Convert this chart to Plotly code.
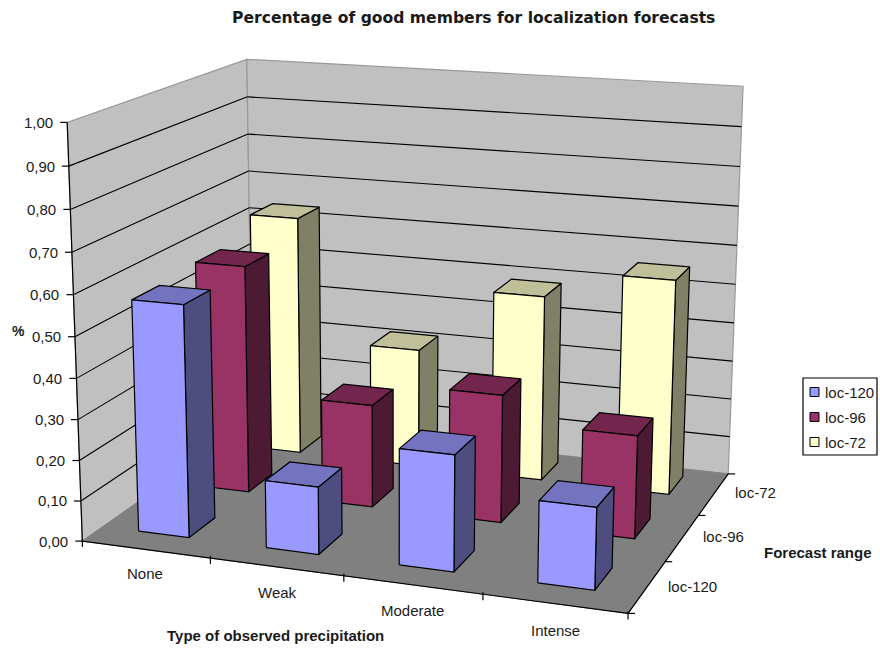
import numpy as np
import plotly.graph_objects as go

# Chart data
categories = ["None", "Weak", "Moderate", "Intense"]
series_names = ["loc-120", "loc-96", "loc-72"]
loc_120 = [0.57, 0.165, 0.28, 0.195]
loc_96 = [0.58, 0.26, 0.32, 0.255]
loc_72 = [0.63, 0.31, 0.48, 0.55]
value_ticks = [0.0, 0.1, 0.2, 0.3, 0.4, 0.5, 0.6, 0.7, 0.8, 0.9, 1.0]

FRONT = {"loc-120": "#9999FF", "loc-96": "#993366", "loc-72": "#FFFFCC"}
TOP = {"loc-120": "#7373BF", "loc-96": "#73264D", "loc-72": "#BFBF99"}
SIDE = {"loc-120": "#4D4D80", "loc-96": "#4D1A33", "loc-72": "#808066"}
TEXT = "#1a1a1a"
FONT = "Liberation Sans, Arial, sans-serif"
WIDE_FONT = "DejaVu Sans, Verdana, sans-serif"

# Camera for the box: category 0-4, range 0-3, value 0-1 -> page pixels.
anchors_3d = [(0, 0, 0), (0, 0, 1), (0, 3, 0), (0, 3, 1), (4, 3, 0), (4, 3, 1), (4, 0, 0),
              (1, 0, 0), (2, 0, 0), (3, 0, 0), (4, 1, 0), (4, 2, 0)]
anchors_px = [(83, 540), (67, 122), (252, 423), (247, 59), (729, 472), (743, 87), (628, 614),
              (211, 557), (343, 577), (483, 595), (665, 562), (698, 515)]


def solve_camera(world, screen):
    rows, rhs = [], []
    for (a, b, c), (u, v) in zip(world, screen):
        rows.append([a, b, c, 1, 0, 0, 0, 0, -u * a, -u * b, -u * c])
        rows.append([0, 0, 0, 0, a, b, c, 1, -v * a, -v * b, -v * c])
        rhs += [u, v]
    p = np.linalg.lstsq(np.array(rows, float), np.array(rhs, float), rcond=None)[0]
    return np.append(p, 1.0).reshape(3, 4)


CAM = solve_camera(anchors_3d, anchors_px)


def project(a, b, c):
    u, v, w = CAM @ np.array([a, b, c, 1.0])
    return u / w, v / w


fig = go.Figure()


def polygon(points, fill, line="#000000", width=1.2):
    xy = [project(*p) for p in points]
    xs = [q[0] for q in xy] + [xy[0][0]]
    ys = [q[1] for q in xy] + [xy[0][1]]
    fig.add_trace(go.Scatter(x=xs, y=ys, mode="lines", fill="toself", fillcolor=fill,
                             line=dict(color=line, width=width), hoverinfo="skip", showlegend=False))


def segment(p, q, color="#000000", width=1.2):
    a, b = project(*p), project(*q)
    fig.add_trace(go.Scatter(x=[a[0], b[0]], y=[a[1], b[1]], mode="lines",
                             line=dict(color=color, width=width), hoverinfo="skip", showlegend=False))


def tick(p, dx0, dy0, dx1, dy1):
    # Short screen-aligned tick mark around a projected axis point
    a = project(*p)
    fig.add_trace(go.Scatter(x=[a[0] + dx0, a[0] + dx1], y=[a[1] + dy0, a[1] + dy1], mode="lines",
                             line=dict(color="#000000", width=1.2), hoverinfo="skip", showlegend=False))


def label(x, y, text, anchor="center", size=15, bold=False, family=FONT):
    fig.add_annotation(x=x, y=y, text=f"<b>{text}</b>" if bold else text, showarrow=False,
                       xanchor=anchor, yanchor="middle", xref="x", yref="y",
                       font=dict(family=family, size=size, color=TEXT))


# Walls and floor
polygon([(0, 0, 0), (0, 3, 0), (0, 3, 1), (0, 0, 1)], "#C0C0C0", "#999999", 1.2)
polygon([(0, 3, 0), (4, 3, 0), (4, 3, 1), (0, 3, 1)], "#C0C0C0", "#999999", 1.2)
polygon([(0, 0, 0), (4, 0, 0), (4, 3, 0), (0, 3, 0)], "#808080", "#808080", 1)

# Gridlines on both walls
for v in value_ticks[1:-1]:
    segment((0, 0, v), (0, 3, v), width=1.1)
    segment((0, 3, v), (4, 3, v), width=1.1)

# Axis lines and tick marks
segment((0, 0, 0), (0, 0, 1))
segment((0, 0, 0), (4, 0, 0))
segment((4, 0, 0), (4, 3, 0))
for v in value_ticks:
    tick((0, 0, v), -7, 0, 0, 0)
for i in range(5):
    tick((i, 0, 0), 0, -2, 0, 6)
for j in range(4):
    tick((4, j, 0), 0, 0, 7, 0)

# Bars, back row first
BAR_CENTER_X = 0.485
ROW_CENTERS = [0.54, 1.59, 2.60]
BAR_HALF_X, BAR_HALF_Y = 0.2, 0.22
rows = {"loc-120": loc_120, "loc-96": loc_96, "loc-72": loc_72}
for j in [2, 1, 0]:
    name = series_names[j]
    for i, value in enumerate(rows[name]):
        x0, x1 = i + BAR_CENTER_X - BAR_HALF_X, i + BAR_CENTER_X + BAR_HALF_X
        y0, y1 = ROW_CENTERS[j] - BAR_HALF_Y, ROW_CENTERS[j] + BAR_HALF_Y
        polygon([(x1, y0, 0), (x1, y1, 0), (x1, y1, value), (x1, y0, value)], SIDE[name])
        polygon([(x0, y0, value), (x1, y0, value), (x1, y1, value), (x0, y1, value)], TOP[name])
        polygon([(x0, y0, 0), (x1, y0, 0), (x1, y0, value), (x0, y0, value)], FRONT[name])

# Legend box, swatches and names
fig.add_shape(type="rect", x0=803, x1=877, y0=378, y1=455, xref="x", yref="y", layer="below",
              line=dict(color="#000000", width=1.2), fillcolor="#FFFFFF")
for name, y in zip(series_names, [392, 417, 442]):
    fig.add_trace(go.Scatter(x=[814.5], y=[y], mode="markers", hoverinfo="skip", showlegend=False,
                             marker=dict(symbol="square", size=9, color=FRONT[name],
                                         line=dict(color="#000000", width=1))))
    label(823, y, name, anchor="left")

# Value, category and range tick labels
for v in value_ticks:
    px, py = project(0, 0, v)
    label(px - 12, py, f"{v:.2f}".replace(".", ","), anchor="right")
for name, (x, y) in zip(categories, [(145, 573), (277, 592), (412, 610), (555, 630)]):
    label(x, y, name)
for name, (x, y) in zip(series_names, [(692, 586), (723, 536), (755, 492)]):
    label(x, y, name)

# Titles
label(473, 18, "Percentage of good members for localization forecasts", size=15.6, bold=True,
      family=WIDE_FONT)
label(275, 635, "Type of observed precipitation", size=15, bold=True)
label(818, 552, "Forecast range", size=15, bold=True)
label(18, 331, "%", size=14, bold=True)

fig.update_layout(
    width=880, height=649, margin=dict(l=0, r=0, t=0, b=0, autoexpand=False),
    paper_bgcolor="#FFFFFF", plot_bgcolor="#FFFFFF", showlegend=False,
    xaxis=dict(range=[0, 880], visible=False, fixedrange=True),
    yaxis=dict(range=[649, 0], visible=False, fixedrange=True),
)

fig.write_html("out.html")
